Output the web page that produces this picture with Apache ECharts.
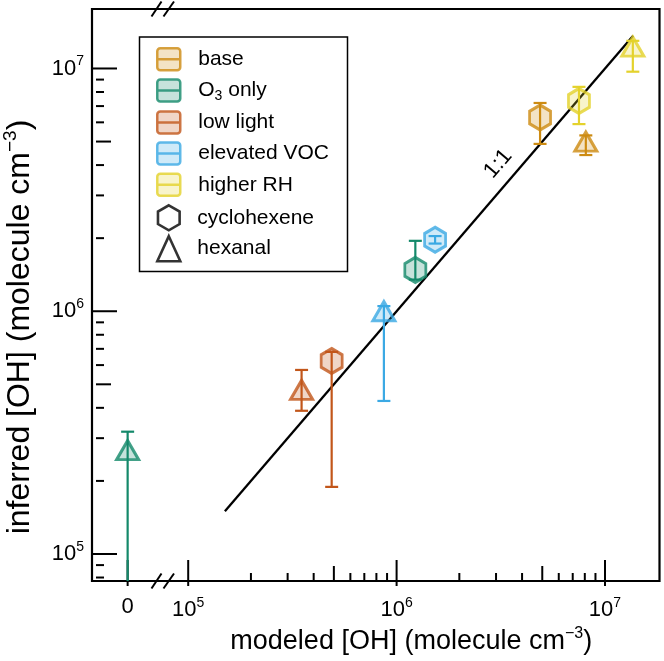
<!DOCTYPE html>
<html>
<head>
<meta charset="utf-8">
<script src="https://cdn.jsdelivr.net/npm/echarts@6/dist/echarts.min.js"></script>
<style>
html, body { margin: 0; padding: 0; background: #fff; }
#chart { width: 664px; height: 661px; }
</style>
</head>
<body>
<div id="chart"></div>
<script>
// conditions (legend order) and the two tracers
var conditions = ['base', 'O3 only', 'low light', 'elevated VOC', 'higher RH'];
var compounds = ['cyclohexene', 'hexanal'];

// cyclohexene: modeled [OH], inferred [OH], error bar low / high
var cyclohexeneModeled  = [4.88e6, 1.23e6, 4.88e5, 1.53e6, 7.5e6];
var cyclohexeneInferred = [6.28e6, 1.48e6, 6.24e5, 1.97e6, 7.35e6];
var cyclohexeneLow      = [4.89e6, 1.35e6, 1.89e5, 1.90e6, 5.9e6];
var cyclohexeneHigh     = [7.21e6, 1.95e6, 6.8e5, 2.04e6, 8.4e6];

// hexanal (modeled 0 is drawn on the left part of the broken axis)
var hexanalModeled  = [8.09e6, 0, 3.50e5, 8.69e5, 1.36e7];
var hexanalInferred = [5.0e6, 2.68e5, 4.74e5, 1.0e6, 1.23e7];
var hexanalLow      = [4.4e6, 0, 3.89e5, 4.27e5, 9.7e6];
var hexanalHigh     = [5.3e6, 3.19e5, 5.73e5, 1.05e6, 1.3e7];

// 1:1 line ends and where its label sits
var oneToOne = [1.5e5, 1.365e7];
var oneToOneLabelAt = 3.6e6;

// axis ticks
var majorTicks = [1e5, 1e6, 1e7];
var minorSteps = [2, 3, 4, 5, 6, 7, 8, 9];
var zeroTickLabel = '0';

var colors = ['#CD8B12', '#14896A', '#C2561A', '#3BA9E4', '#E4D22C'];
var fills = ['rgba(205,139,18,0.3)', 'rgba(20,137,106,0.3)', 'rgba(194,86,26,0.3)',
             'rgba(59,169,228,0.3)', 'rgba(228,210,44,0.3)'];
var FONT = "Arial, 'Liberation Sans', sans-serif";
var HEX = 'path://M0,-1L0.866,-0.5L0.866,0.5L0,1L-0.866,0.5L-0.866,-0.5Z';
var BOX = 'path://M3,0H20A3,3 0 0 1 23,3V19A3,3 0 0 1 20,22H3A3,3 0 0 1 0,19V3A3,3 0 0 1 3,0ZM0,11H23';

var xMin = 7.57e4, xMax = 1.826e7;
var yMin = 7.74e4, yMax = 1.758e7;

var myChart = echarts.init(document.getElementById('chart'));

var shapes = {
    cyclohexene: { symbol: HEX, size: [21, 25] },
    hexanal: { symbol: 'triangle', size: [22, 19] }
};
var sets = {
    cyclohexene: { x: cyclohexeneModeled, y: cyclohexeneInferred, lo: cyclohexeneLow, hi: cyclohexeneHigh },
    hexanal: { x: hexanalModeled, y: hexanalInferred, lo: hexanalLow, hi: hexanalHigh }
};

// tick lists
var xTicks = [], yTicks = [];
majorTicks.forEach(function (d) {
    xTicks.push([d, 1e6, 2]);
    yTicks.push([0, d, 2]);
    minorSteps.forEach(function (m) {
        var lvl = m === 5 ? 1 : 0;
        if (d * m < xMax && d * m > 1e5) xTicks.push([d * m, 1e6, lvl]);
        if (d * m < yMax) yTicks.push([0, d * m, lvl]);
        if (d / 10 * m > yMin && d / 10 * m < 1e5) yTicks.push([0, d / 10 * m, lvl]);
    });
});
var tickLen = [8, 15, 21];

function renderXTick(params, api) {
    var cs = params.coordSys;
    var x = api.coord([api.value(0), api.value(1)])[0];
    var lvl = api.value(2);
    var y0 = cs.y + cs.height;
    return {
        type: 'line',
        shape: { x1: x, y1: y0 + (lvl === 2 ? 5 : 0), x2: x, y2: y0 - tickLen[lvl] },
        style: { stroke: '#000', lineWidth: 2 }
    };
}
function renderYTick(params, api) {
    var cs = params.coordSys;
    var y = api.coord([api.value(0), api.value(1)])[1];
    var lvl = api.value(2);
    return {
        type: 'line',
        shape: { x1: cs.x - (lvl === 2 ? 5 : 0), y1: y, x2: cs.x + tickLen[lvl], y2: y },
        style: { stroke: '#000', lineWidth: 2 }
    };
}
function renderErrorBar(params, api) {
    var cs = params.coordSys;
    var xv = api.value(0);
    var x = api.coord([xv, api.value(1)])[0];
    var lo = api.value(2), hi = api.value(3);
    var c = colors[api.value(4)];
    var yHi = api.coord([xv, hi])[1];
    var yLo = lo > 0 ? api.coord([xv, lo])[1] : cs.y + cs.height;
    var st = { stroke: c, lineWidth: 2.2 };
    var kids = [
        { type: 'line', shape: { x1: x, y1: yHi, x2: x, y2: yLo }, style: st },
        { type: 'line', shape: { x1: x - 6.5, y1: yHi, x2: x + 6.5, y2: yHi }, style: st }
    ];
    if (lo > 0) kids.push({ type: 'line', shape: { x1: x - 6.5, y1: yLo, x2: x + 6.5, y2: yLo }, style: st });
    return { type: 'group', children: kids };
}
function renderBreak(params, api) {
    var cs = params.coordSys;
    var x0 = cs.x;
    var kids = [];
    [cs.y, cs.y + cs.height].forEach(function (yb) {
        kids.push({ type: 'line', shape: { x1: x0 - 11.5, y1: yb + 7.5, x2: x0 - 1.5, y2: yb - 7.5 }, style: { stroke: '#000', lineWidth: 2 } });
        kids.push({ type: 'line', shape: { x1: x0 + 0.5, y1: yb + 7.5, x2: x0 + 11, y2: yb - 7.5 }, style: { stroke: '#000', lineWidth: 2 } });
    });
    return { type: 'group', children: kids };
}
function renderOneToOneLabel(params, api) {
    var v = api.value(0);
    var p = api.coord([v, v]);
    var q = api.coord([v * 10, v * 10]);
    var dx = q[0] - p[0], dy = q[1] - p[1];
    var len = Math.sqrt(dx * dx + dy * dy);
    var nx = dy / len, ny = -dx / len;
    return {
        type: 'text',
        x: p[0] + nx * 19, y: p[1] + ny * 19,
        rotation: Math.atan2(-dy, dx),
        style: { text: '1:1', fontSize: 22, fontFamily: FONT, fill: '#000', align: 'center', verticalAlign: 'middle' }
    };
}

function powerLabel(v) {
    var e = Math.log(v) / Math.LN10;
    if (Math.abs(e - Math.round(e)) > 1e-6) return '';
    return '10{sup|' + Math.round(e) + '}';
}

var series = [];
var errLog = [], errZero = [];
conditions.forEach(function (name, i) {
    var logPts = [], zeroPts = [];
    compounds.forEach(function (c) {
        var s = sets[c];
        var item = { value: [s.x[i], s.y[i]], symbol: shapes[c].symbol, symbolSize: shapes[c].size };
        var err = [s.x[i], s.y[i], s.lo[i], s.hi[i], i];
        if (s.x[i] > 0) { logPts.push(item); errLog.push(err); }
        else { zeroPts.push(item); errZero.push(err); }
    });
    var style = { color: fills[i], borderColor: colors[i], borderWidth: 3 };
    series.push({ name: name, type: 'scatter', xAxisIndex: 1, yAxisIndex: 1, data: logPts, itemStyle: style, z: 5, silent: true });
    if (zeroPts.length) {
        series.push({ name: name, type: 'scatter', xAxisIndex: 0, yAxisIndex: 0, data: zeroPts, itemStyle: style, z: 5, silent: true });
    }
});
compounds.forEach(function (c) {
    series.push({ name: c, type: 'scatter', xAxisIndex: 1, yAxisIndex: 1, data: [],
        symbol: shapes[c].symbol, itemStyle: { color: 'rgba(0,0,0,0)', borderColor: '#000', borderWidth: 2.5 } });
});
series.push(
    { type: 'custom', xAxisIndex: 1, yAxisIndex: 1, data: errLog, renderItem: renderErrorBar, z: 4, silent: true },
    { type: 'custom', xAxisIndex: 0, yAxisIndex: 0, data: errZero, renderItem: renderErrorBar, z: 4, silent: true },
    { type: 'line', xAxisIndex: 1, yAxisIndex: 1, data: oneToOne.map(function (v) { return [v, v]; }),
      symbol: 'none', lineStyle: { color: '#000', width: 2.3 }, z: 3, silent: true },
    { type: 'custom', xAxisIndex: 1, yAxisIndex: 1, data: [[oneToOneLabelAt, oneToOneLabelAt]], renderItem: renderOneToOneLabel, z: 3, silent: true },
    { type: 'custom', xAxisIndex: 1, yAxisIndex: 1, data: xTicks, renderItem: renderXTick, z: 2, silent: true },
    { type: 'custom', xAxisIndex: 0, yAxisIndex: 0, data: [[0, 1e6, 2]], renderItem: renderXTick, z: 2, silent: true },
    { type: 'custom', xAxisIndex: 0, yAxisIndex: 0, data: yTicks, renderItem: renderYTick, z: 2, silent: true },
    { type: 'custom', xAxisIndex: 1, yAxisIndex: 1, data: [[1e6, 1e6]], renderItem: renderBreak, z: 2, silent: true }
);

var supRich = { sup: { fontSize: 14, fontFamily: FONT, color: '#000', padding: [0, 0, 14, 0] } };
var xNameRich = { sup: { fontSize: 16, fontFamily: FONT, color: '#000', padding: [0, 0, 16, 0] } };
var yNameRich = { sup: { fontSize: 19, fontFamily: FONT, color: '#000', padding: [0, 0, 19, 0] } };
var noLine = { show: false };

var option = {
    animation: false,
    grid: [
        { left: 92, top: 9, width: 71, height: 572 },
        { left: 163, top: 9, width: 496.5, height: 572 },
        { left: 92, top: 9, width: 567.5, height: 572, show: true, borderColor: '#000', borderWidth: 2.2 }
    ],
    xAxis: [
        { gridIndex: 0, type: 'value', min: -1, max: 1.118, axisLine: noLine, axisTick: noLine, splitLine: noLine,
          axisLabel: { margin: 15, fontSize: 22, fontFamily: FONT, color: '#000',
              formatter: function (v) { return v === 0 ? zeroTickLabel : ''; } } },
        { gridIndex: 1, type: 'log', min: xMin, max: xMax, axisLine: noLine, axisTick: noLine, splitLine: noLine,
          axisLabel: { margin: 15, fontSize: 22, fontFamily: FONT, color: '#000', showMinLabel: false, showMaxLabel: false,
              formatter: powerLabel, rich: supRich },
          name: 'modeled [OH] (molecule cm{sup|\u22123})', nameLocation: 'middle', nameGap: 44,
          nameTextStyle: { fontSize: 27, fontFamily: FONT, color: '#000', rich: xNameRich } },
        { gridIndex: 2, type: 'value', show: false }
    ],
    yAxis: [
        { gridIndex: 0, type: 'log', min: yMin, max: yMax, axisLine: noLine, axisTick: noLine, splitLine: noLine,
          axisLabel: { margin: 12, fontSize: 22, fontFamily: FONT, color: '#000', showMinLabel: false, showMaxLabel: false,
              formatter: powerLabel, rich: supRich },
          name: 'inferred [OH] (molecule cm{sup|\u22123})', nameLocation: 'middle', nameGap: 57,
          nameTextStyle: { fontSize: 32, fontFamily: FONT, color: '#000', rich: yNameRich, padding: [0, 64, 0, 0] } },
        { gridIndex: 1, type: 'log', min: yMin, max: yMax, show: false },
        { gridIndex: 2, type: 'value', show: false }
    ],
    legend: [
        { orient: 'vertical', left: 156, top: 47, padding: 0, itemGap: 6.7, itemWidth: 23, itemHeight: 22,
          selectedMode: false,
          data: conditions.map(function (n, i) {
              return { name: n, icon: BOX, itemStyle: { color: fills[i], borderColor: colors[i], borderWidth: 2.5 } };
          }),
          formatter: function (n) { return n === 'O3 only' ? 'O{sub|3} only' : n; },
          textStyle: { fontSize: 21, fontFamily: FONT, color: '#000', lineHeight: 22, padding: [0, 0, 0, 13],
              rich: { sub: { fontSize: 14, fontFamily: FONT, color: '#000', padding: [12, 0, 0, 0] } } } },
        { orient: 'vertical', left: 156, top: 204, padding: 0, itemGap: 3.3, itemWidth: 23, itemHeight: 25,
          selectedMode: false,
          data: compounds.map(function (c) {
              return { name: c, icon: shapes[c].symbol, itemStyle: { color: 'rgba(0,0,0,0)', borderColor: '#000', borderWidth: 2.6 } };
          }),
          textStyle: { fontSize: 21, fontFamily: FONT, color: '#000', lineHeight: 22, padding: [0, 0, 0, 12] } }
    ],
    graphic: [
        { type: 'rect', shape: { x: 139.5, y: 37, width: 208, height: 234.5 },
          style: { fill: 'none', stroke: '#000', lineWidth: 1.5 }, z: 10 }
    ],
    series: series
};
myChart.setOption(option);
</script>
</body>
</html>
